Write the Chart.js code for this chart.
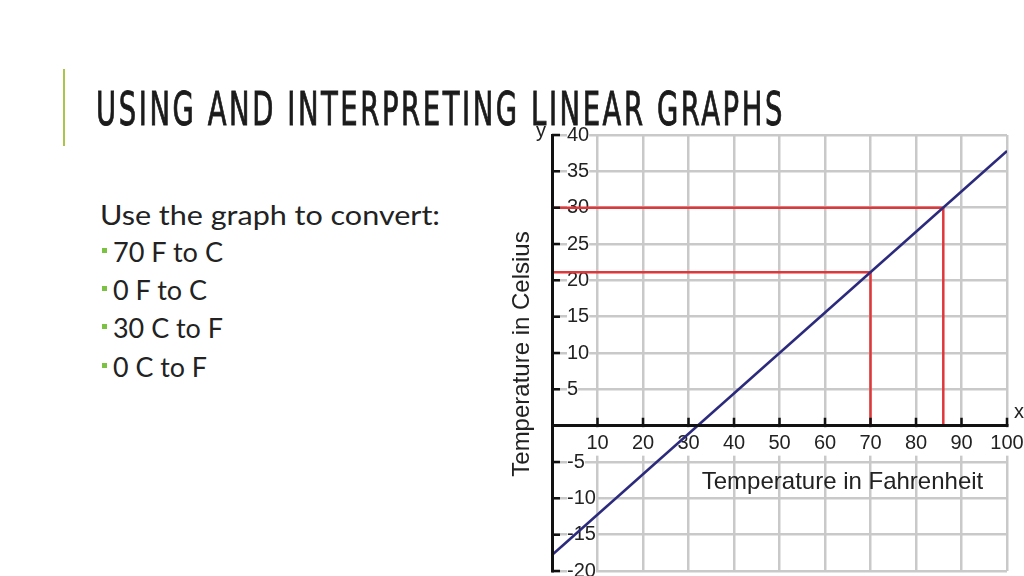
<!DOCTYPE html>
<html><head><meta charset="utf-8">
<script src="https://cdn.jsdelivr.net/npm/chart.js@4.4.1/dist/chart.umd.min.js"></script>
<style>
html,body{margin:0;padding:0;width:1024px;height:576px;overflow:hidden;background:#fff;}
#bar{position:absolute;left:63px;top:69px;width:2px;height:77px;background:#a9c64a;}
.fit{position:absolute;white-space:nowrap;transform-origin:0 0;line-height:1;}
#title{left:96px;top:85px;font-family:"Liberation Sans Narrow","DejaVu Sans Condensed",sans-serif;font-weight:normal;font-size:47px;letter-spacing:4px;color:#1b1b1b;-webkit-text-stroke:0.9px #1b1b1b;}
.body{font-family:Lato,"Open Sans",sans-serif;font-size:26px;color:#222;}
.bul{position:absolute;width:5px;height:5px;background:#7cc242;}
#chartWrap{position:absolute;left:480px;top:100px;width:570px;height:500px;}
</style></head>
<body>
<div id="bar"></div>
<div id="chartWrap"><canvas id="c" width="570" height="500" style="width:570px;height:500px"></canvas></div>
<div id="title" class="fit" data-w="689">USING AND INTERPRETING LINEAR GRAPHS</div>
<div class="fit body" style="left:100px;top:202px" data-w="340">Use the graph to convert:</div>
<div class="bul" style="left:102px;top:248px"></div>
<div class="fit body" style="left:113px;top:239px" data-w="110">70 F to C</div>
<div class="bul" style="left:102px;top:286px"></div>
<div class="fit body" style="left:113px;top:277px" data-w="94">0 F to C</div>
<div class="bul" style="left:102px;top:324px"></div>
<div class="fit body" style="left:113px;top:315px" data-w="110">30 C to F</div>
<div class="bul" style="left:102px;top:363px"></div>
<div class="fit body" style="left:113px;top:354px" data-w="94">0 C to F</div>
<script>
// ---- data ----
const fahrenheit = [0, 100];
const celsius = [-17.8, 37.8];
const readF = [70, 86];
const readC = [21.1, 30];
const xTickValues = [0, 10, 20, 30, 40, 50, 60, 70, 80, 90, 100];
const xTickLabels = ['', '10', '20', '30', '40', '50', '60', '70', '80', '90', '100'];
const yTickValues = [-20, -15, -10, -5, 0, 5, 10, 15, 20, 25, 30, 35, 40];
const yTickLabels = ['-20', '-15', '-10', '-5', '', '5', '10', '15', '20', '25', '30', '35', '40'];
const xTitle = 'Temperature in Fahrenheit';
const yTitle = 'Temperature in Celsius';

// fit slide text widths
document.querySelectorAll('.fit').forEach(el => {
  const w = parseFloat(el.dataset.w);
  const m = el.getBoundingClientRect().width;
  if (w && m) el.style.transform = 'scaleX(' + (w / m) + ')';
});

const FONT = '"Liberation Sans", Arial, sans-serif';
const tickFont = {family: FONT, size: 20};
const Y_PAD = 15;
const measureCtx = document.createElement('canvas').getContext('2d');
measureCtx.font = '20px ' + FONT;

const conversion = fahrenheit.map((f, i) => ({x: f, y: celsius[i]}));
const readings = readF.map((f, i) => ({
  data: [{x: 0, y: readC[i]}, {x: f, y: readC[i]}, {x: f, y: 0}],
  showLine: true, borderColor: '#e0383a', borderWidth: 2.5, pointRadius: 0, tension: 0, fill: false
}));

// y label backdrop reaches up to (not over) the first vertical grid line
function yBackdrop(c) {
  const label = yTickLabels[c.index] || '';
  const w = measureCtx.measureText(label).width;
  let right = 4;
  const xs = c.chart.scales.x, ys = c.chart.scales.y;
  if (xs && ys) {
    const edge = xs.getPixelForValue(xTickValues[1]) - 1.5;
    right = Math.max(0, edge - (ys.right + Y_PAD + w));
  }
  return {top: 0, bottom: 0, left: 6, right: right};
}

const decor = {
  id: 'decor',
  afterDatasetsDraw(chart) {
    const {ctx, scales: {x, y}} = chart;
    const x0 = x.getPixelForValue(0), y0 = y.getPixelForValue(0);
    ctx.save();
    ctx.strokeStyle = '#111'; ctx.lineWidth = 2.5; ctx.beginPath();
    xTickValues.forEach(v => { if (v === 0) return; const px = x.getPixelForValue(v); ctx.moveTo(px, y0); ctx.lineTo(px, y0 - 8); });
    yTickValues.forEach(v => { if (v === 0) return; const py = y.getPixelForValue(v); ctx.moveTo(x0, py); ctx.lineTo(x0 + 8, py); });
    ctx.stroke();
    ctx.fillStyle = '#222';
    ctx.font = '24px ' + FONT;
    ctx.textAlign = 'center'; ctx.textBaseline = 'alphabetic';
    ctx.fillText(xTitle, 362.5, 389);
    ctx.save();
    ctx.translate(42, 254); ctx.rotate(-Math.PI / 2);
    ctx.textBaseline = 'middle';
    ctx.fillText(yTitle, 0, 0);
    ctx.restore();
    ctx.font = '20px ' + FONT;
    ctx.textAlign = 'left'; ctx.textBaseline = 'alphabetic';
    ctx.fillText('x', 534, 318);
    ctx.fillText('y', 56, 37);
    ctx.restore();
  }
};

new Chart(document.getElementById('c'), {
  type: 'scatter',
  data: {
    datasets: [
      {data: conversion, showLine: true, borderColor: '#2c2a7c', borderWidth: 2.5, pointRadius: 0, tension: 0, fill: false},
      ...readings
    ]
  },
  options: {
    responsive: false, animation: false, devicePixelRatio: 1,
    layout: {padding: {left: 42, top: 35, right: 43, bottom: 29}},
    plugins: {legend: {display: false}, tooltip: {enabled: false}},
    scales: {
      x: {
        type: 'linear', min: 0, max: 100, position: {y: 0},
        afterBuildTicks: s => { s.ticks = xTickValues.map(v => ({value: v})); },
        grid: {color: '#c9c9c9', lineWidth: 2.5, drawTicks: false},
        border: {color: '#111', width: 3, z: 1},
        ticks: {
          callback: (v, i) => xTickLabels[i], font: tickFont, color: '#222', padding: 6,
          maxRotation: 0, autoSkip: false,
          showLabelBackdrop: c => c.tick && c.tick.value !== 0, backdropColor: '#fff',
          backdropPadding: {top: 4, bottom: 0, left: 2, right: 2}
        }
      },
      y: {
        type: 'linear', min: -20, max: 40, position: 'left',
        afterBuildTicks: s => { s.ticks = yTickValues.map(v => ({value: v})); },
        grid: {color: '#c9c9c9', lineWidth: 2.5, drawTicks: false},
        border: {color: '#111', width: 3, z: 1},
        ticks: {
          callback: (v, i) => yTickLabels[i], font: tickFont, color: '#222', mirror: true, padding: Y_PAD,
          autoSkip: false,
          showLabelBackdrop: c => c.tick && c.tick.value !== 0, backdropColor: '#fff',
          backdropPadding: yBackdrop
        }
      }
    }
  },
  plugins: [decor]
});
</script>
</body></html>
